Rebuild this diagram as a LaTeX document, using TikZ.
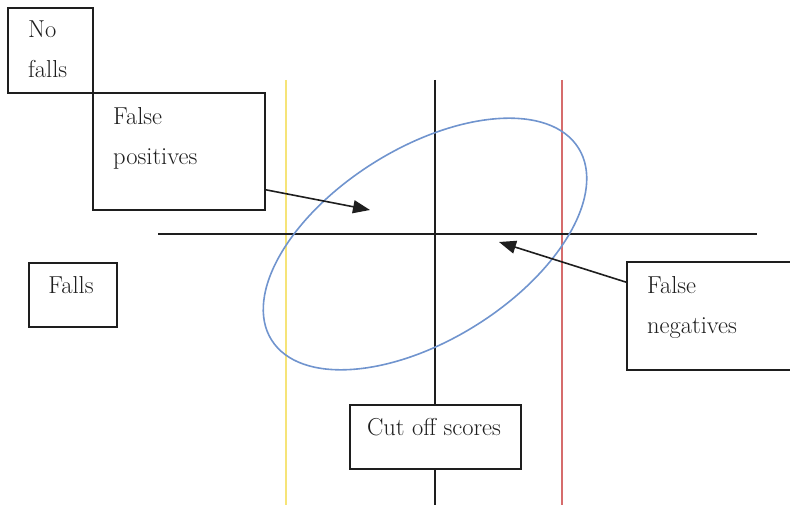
\documentclass[tikz,border=0pt]{standalone}
\usetikzlibrary{arrows.meta,calc}
\definecolor{ovalblue}{RGB}{112,148,206}
\definecolor{cutyellow}{RGB}{246,228,120}
\definecolor{cutred}{RGB}{214,108,108}
\definecolor{ink}{RGB}{30,30,30}
\tikzset{
  box/.style={draw=ink,line width=1.6pt,rectangle,inner sep=0pt,fill=white},
  lbl/.style={anchor=base west,inner sep=0pt,text=ink,font=\fontsize{24.5}{40}\selectfont},
  axis/.style={draw=ink,line width=1.5pt},
  cutline/.style={line width=1.3pt},
  pointer/.style={draw=ink,line width=1.6pt,-{Triangle[length=17pt,width=13pt]}},
}
\begin{document}
\begin{tikzpicture}[x=1pt,y=-1pt]
  \useasboundingbox (0,0) rectangle (790,505);
  \clip (0,0) rectangle (790,505);

  % cut-off lines and axes
  \coordinate (ytop) at (286,80);   \coordinate (ybot) at (286,506);
  \coordinate (vtop) at (435,80);   \coordinate (vbot) at (435,506);
  \coordinate (rtop) at (562,80);   \coordinate (rbot) at (562,506);
  \coordinate (hleft) at (158,234); \coordinate (hright) at (757,234);
  \draw[cutline,cutyellow] (ytop) -- (ybot);
  \draw[cutline,cutred] (rtop) -- (rbot);
  \draw[axis] (vtop) -- (vbot);
  \draw[axis] (hleft) -- (hright);

  % the scatter of scores
  \coordinate (oc) at (425,244);
  \draw[ovalblue,line width=1.6pt,rotate around={32:(oc)}] (oc) ellipse [x radius=181pt, y radius=96pt];

  % boxes
  \node[box,minimum width=85pt,minimum height=85pt] (nofalls) at (50.5,50.5) {};
  \node[box,minimum width=172pt,minimum height=117pt] (fp) at (179,151.5) {};
  \node[box,minimum width=88pt,minimum height=64pt] (falls) at (73,295) {};
  \node[box,minimum width=170pt,minimum height=108pt] (fn) at (712,316) {};
  \node[box,minimum width=171pt,minimum height=64pt] (cut) at (435.5,437) {};

  % labels
  \node[lbl] (t1) at (28,38) {No};
  \node[lbl] (t2) at (28,78) {falls};
  \node[lbl] (t3) at (113,125) {False};
  \node[lbl] (t4) at (113,165) {positives};
  \node[lbl,anchor=base] (t5) at (71,293) {Falls};
  \node[lbl] (t6) at (647,293) {False};
  \node[lbl] (t7) at (647,333) {negatives};
  \node[lbl,anchor=base] (t8) at (434,435) {Cut off scores};

  % pointers
  \coordinate (fptip) at (370,210);
  \coordinate (fntip) at (499,242);
  \draw[pointer] ($(fp.south east)+(0,-21)$) -- (fptip);
  \draw[pointer] ($(fn.north west)+(0,21)$) -- (fntip);
\end{tikzpicture}
\end{document}
